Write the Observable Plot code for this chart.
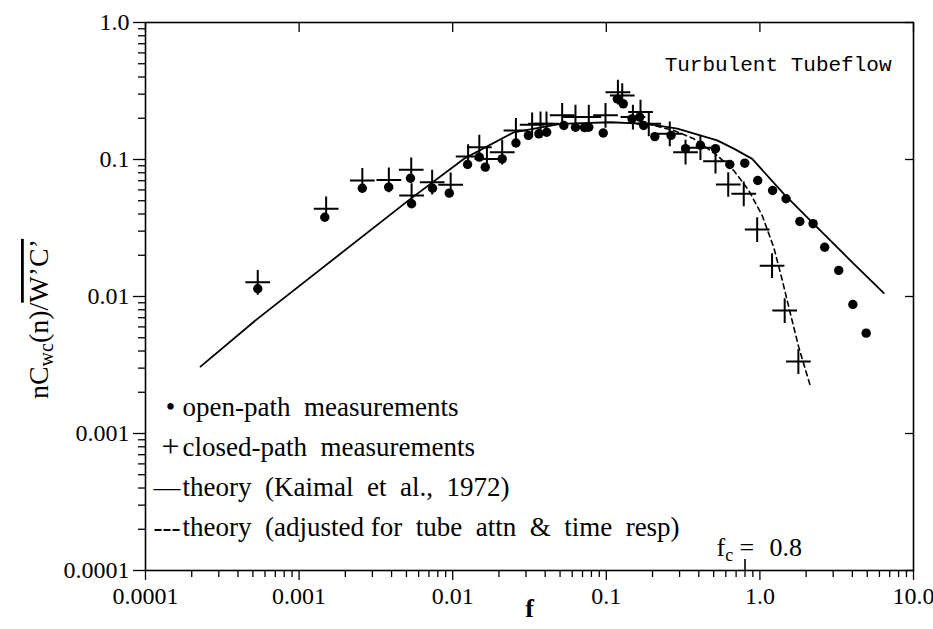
<!DOCTYPE html>
<html><head><meta charset="utf-8">
<script src="https://cdn.jsdelivr.net/npm/d3@7"></script>
<script src="https://cdn.jsdelivr.net/npm/@observablehq/plot@0.6"></script>
<style>body{margin:0;background:#fff}#chart{width:933px;height:629px}</style>
</head><body><div id="chart"></div>
<script>
// ---- data ----
const openF = [0.000538,0.00147,0.00258,0.00383,0.00531,0.0054,0.00739,0.0095,0.0125,0.0149,0.0163,0.021,0.0258,0.0311,0.0364,0.0409,0.0529,0.063,0.0721,0.0769,0.0955,0.118,0.129,0.147,0.165,0.175,0.207,0.264,0.328,0.41,0.514,0.637,0.797,0.968,1.21,1.48,1.82,2.22,2.64,3.26,4.03,4.92];
const openY = [0.0114,0.0379,0.0617,0.0628,0.073,0.0475,0.0617,0.0568,0.092,0.104,0.0879,0.101,0.132,0.150,0.154,0.158,0.177,0.172,0.171,0.172,0.156,0.277,0.255,0.198,0.204,0.177,0.147,0.150,0.120,0.127,0.120,0.092,0.094,0.0703,0.0594,0.0517,0.0353,0.034,0.0229,0.0155,0.00874,0.0054];
const closedF = [0.000538,0.0015,0.00258,0.00384,0.00537,0.0054,0.00735,0.0097,0.0126,0.0149,0.0167,0.021,0.0258,0.0329,0.0373,0.0408,0.0516,0.063,0.0769,0.0988,0.119,0.127,0.149,0.167,0.189,0.259,0.328,0.41,0.514,0.622,0.785,0.96,1.20,1.45,1.78];
const closedY = [0.0127,0.0437,0.0703,0.071,0.0841,0.0546,0.0683,0.0654,0.105,0.123,0.101,0.113,0.163,0.179,0.182,0.182,0.21,0.204,0.204,0.21,0.31,0.293,0.204,0.222,0.182,0.154,0.113,0.122,0.0972,0.0657,0.0562,0.0308,0.0168,0.0079,0.00335];
const theoryF = [0.000228,0.000535,0.00531,0.0118,0.025,0.0504,0.106,0.185,0.29,0.527,0.676,0.891,1.43,2.36,3.89,6.41];
const theoryY = [0.00308,0.00687,0.0516,0.101,0.158,0.182,0.187,0.182,0.168,0.138,0.12,0.101,0.0562,0.032,0.0183,0.0106];
const adjustedF = [0.185,0.275,0.371,0.527,0.676,0.846,1.035,1.23,1.40,1.58,1.79,2.13];
const adjustedY = [0.182,0.163,0.142,0.107,0.0831,0.0594,0.039,0.0229,0.0131,0.00748,0.00427,0.00222];
const cutoffF = [0.8];
const xTicks = [0.0001,0.001,0.01,0.1,1,10];
const xTickLabels = ["0.0001","0.001","0.01","0.1","1.0","10.0"];
const yTicks = [0.0001,0.001,0.01,0.1,1];
const yTickLabels = ["0.0001","0.001","0.01","0.1","1.0"];
const legendSymbols = ["\u2022","+","\u2014","---"];
const legendLabels = ["open-path  measurements","closed-path  measurements","theory  (Kaimal  et  al.,  1972)","theory  (adjusted for  tube  attn  &  time  resp)"];
const titleText = "Turbulent Tubeflow";
const xLabel = "f";

// ---- build ----
const open = openF.map((f,i)=>({f, v: openY[i]}));
const closed = closedF.map((f,i)=>({f, v: closedY[i]}));
const theory = theoryF.map((f,i)=>({f, v: theoryY[i]}));
const adjusted = adjustedF.map((f,i)=>({f, v: adjustedY[i]}));
const minorX = d3.range(-4,1).flatMap(e => d3.range(2,10).map(k => +(k*Math.pow(10,e)).toPrecision(3)));
const minorY = d3.range(-4,0).flatMap(e => d3.range(2,10).map(k => +(k*Math.pow(10,e)).toPrecision(3)));
const serif = "'Liberation Serif','Times New Roman',serif";

const legendMarks = legendLabels.flatMap((t, i) => [
  Plot.text([t], {frameAnchor: "bottom-left", dx: 37, dy: -155 + 40*i, textAnchor: "start", fontSize: 27, fill: "black"}),
  Plot.text([legendSymbols[i]], {frameAnchor: "bottom-left",
    dx: i < 2 ? 25 : 35, dy: -155 + 40*i + (i === 1 ? 1 : 0),
    textAnchor: i < 2 ? "middle" : "end", fontSize: i === 1 ? 32 : 27, fill: "black"})
]);

const svg = Plot.plot({
  width: 933, height: 629,
  marginLeft: 145, marginRight: 20, marginTop: 22, marginBottom: 59,
  style: {fontFamily: serif, fontSize: "24px", color: "black", background: "white"},
  x: {type: "log", domain: [1e-4, 10]},
  y: {type: "log", domain: [1e-4, 1]},
  marks: [
    Plot.axisX({ticks: minorX, tickSize: 7, text: null, label: null, strokeWidth: 1.3}),
    Plot.axisX({ticks: xTicks, tickSize: 10, tickPadding: 6, label: null, strokeWidth: 1.3,
      tickFormat: d => xTickLabels[xTicks.indexOf(d)], fontSize: 24}),
    Plot.axisX({anchor: "top", ticks: xTicks, tickSize: 9, dy: 9, text: null, label: null, strokeWidth: 1.3}),
    Plot.axisX({ticks: cutoffF, tickSize: 11, dy: -11, text: null, label: null, strokeWidth: 1.6}),
    Plot.axisY({ticks: minorY, tickSize: 7, text: null, label: null, strokeWidth: 1.3}),
    Plot.axisY({ticks: yTicks, tickSize: 12, tickPadding: 4, label: null, strokeWidth: 1.3,
      tickFormat: d => yTickLabels[yTicks.indexOf(d)], fontSize: 24}),
    Plot.axisY({anchor: "right", ticks: yTicks, tickSize: 9, dx: -9, text: null, label: null, strokeWidth: 1.3}),
    Plot.frame({stroke: "black", strokeWidth: 1.6}),
    Plot.line(theory, {x: "f", y: "v", stroke: "black", strokeWidth: 1.8}),
    Plot.line(adjusted, {x: "f", y: "v", stroke: "black", strokeWidth: 1.6, strokeDasharray: "5,4"}),
    Plot.dot(open, {x: "f", y: "v", r: 4.7, fill: "black", stroke: null}),
    Plot.dot(closed, {x: "f", y: "v", symbol: "plus", r: 8, stroke: "black", strokeWidth: 2}),
    Plot.text([titleText], {frameAnchor: "top-right", dx: -22, dy: 34, textAnchor: "end",
      fontFamily: "'Liberation Mono','Courier New',monospace", fontSize: 21}),
    ...legendMarks,
    Plot.text([xLabel], {frameAnchor: "bottom", dy: 46, fontSize: 26, fontWeight: "bold"})
  ]
});
document.getElementById("chart").appendChild(svg);

// rich-text annotations (subscripts / overline)
const ns = "http://www.w3.org/2000/svg";
function el(tag, attrs, parent, txt) {
  const e = document.createElementNS(ns, tag);
  for (const k in attrs) e.setAttribute(k, attrs[k]);
  if (txt != null) e.textContent = txt;
  if (parent) parent.appendChild(e);
  return e;
}
const sx = svg.scale("x"), sy = svg.scale("y");
const yMid = (sy.apply(1) + sy.apply(1e-4)) / 2 + 23;
const yl = el("text", {transform: `translate(48,${yMid}) rotate(-90)`, "text-anchor": "middle",
  "font-family": serif, "font-size": 28, fill: "black"}, svg);
el("tspan", {}, yl, "nC");
el("tspan", {"font-size": 20, dy: 5}, yl, "wc");
el("tspan", {dy: -5}, yl, "(n)/");
el("tspan", {style: "text-decoration: overline"}, yl, "W\u2019C\u2019");

const xc = sx.apply(cutoffF[0]);
const fcY = sy.apply(1e-4) - 14;
const fc = el("text", {x: xc - 28, y: fcY, "text-anchor": "start", "font-family": serif,
  "font-size": 26, fill: "black"}, svg);
el("tspan", {}, fc, "f");
el("tspan", {"font-size": 18, dy: 5}, fc, "c");
el("tspan", {x: xc - 5, dy: -5}, fc, "=");
el("tspan", {x: xc + 25}, fc, "0.8");
</script>
</body></html>
